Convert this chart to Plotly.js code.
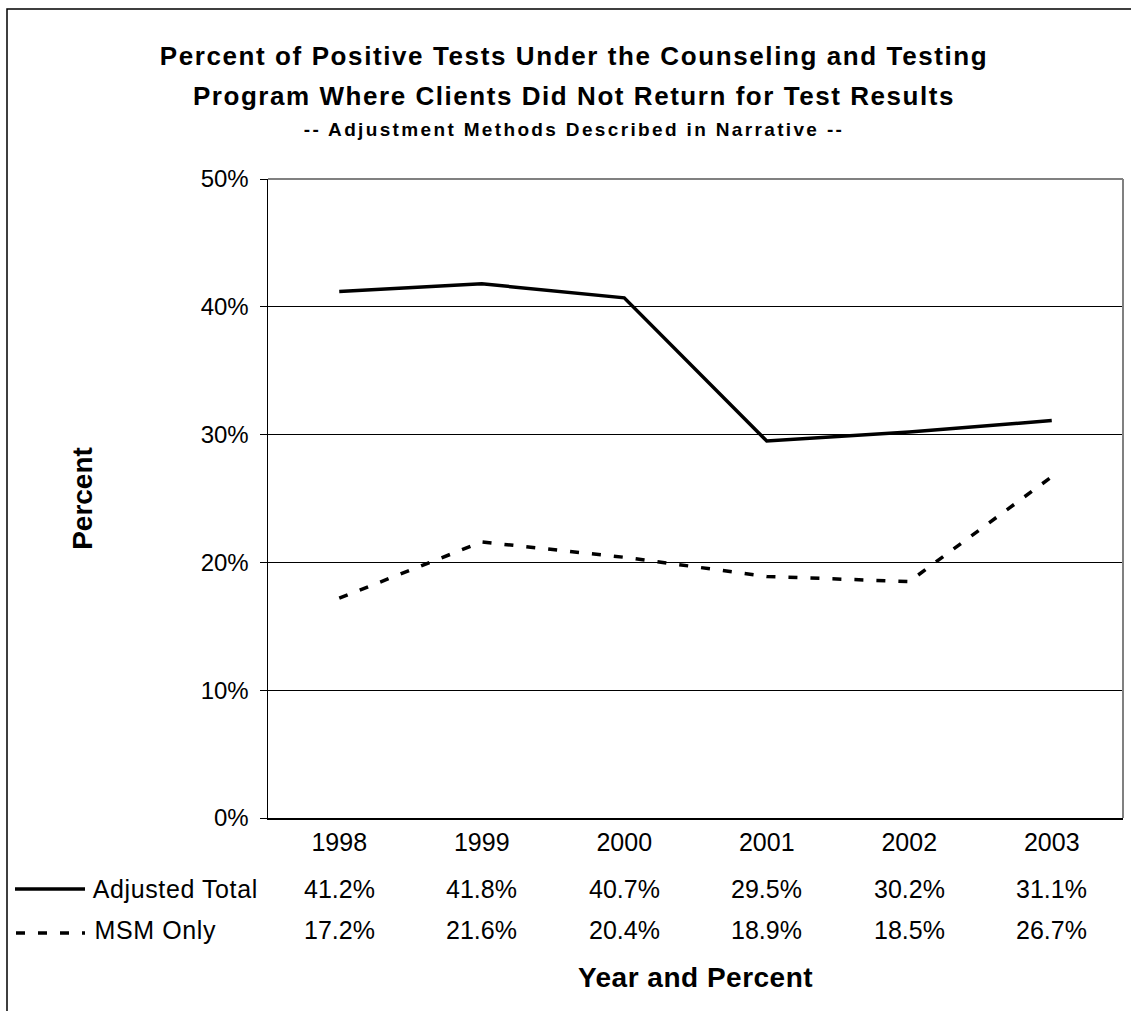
<!DOCTYPE html>
<html><head><meta charset="utf-8">
<script src="https://cdn.plot.ly/plotly-3.0.1.min.js"></script>
<style>
html,body{margin:0;padding:0;background:#fff;}
#chart{width:1131px;height:1011px;}
.gtitle{letter-spacing:1.6px;}
.annotation[data-index="0"] text{letter-spacing:1.55px;}
.annotation[data-index="1"] text{letter-spacing:2.35px;}
.annotation[data-index="2"] text, .annotation[data-index="9"] text{letter-spacing:0.6px;}
.g-xtitle text{letter-spacing:0.5px;}
</style></head><body><div id="chart"></div>
<script>
// ---- data ----
const years = ['1998', '1999', '2000', '2001', '2002', '2003'];
const adjustedTotal = [41.2, 41.8, 40.7, 29.5, 30.2, 31.1];
const msmOnly = [17.2, 21.6, 20.4, 18.9, 18.5, 26.7];
const seriesNames = ['Adjusted Total', 'MSM Only'];
const yTickVals = [0, 10, 20, 30, 40, 50];
const yTickText = ['0%', '10%', '20%', '30%', '40%', '50%'];
const titleLine1 = 'Percent of Positive Tests Under the Counseling and Testing';
const titleLine2 = 'Program Where Clients Did Not Return for Test Results';
const subtitle = '-- Adjustment Methods Described in Narrative --';

const FONT = 'Liberation Sans, Arial, Helvetica, sans-serif';
const dashStyle = '9px,13px';

const traces = [
  {x: years, y: adjustedTotal, name: seriesNames[0], type: 'scatter', mode: 'lines',
   line: {color: '#000', width: 3.5}, showlegend: false, hoverinfo: 'x+y'},
  {x: years, y: msmOnly, name: seriesNames[1], type: 'scatter', mode: 'lines',
   line: {color: '#000', width: 3.5, dash: dashStyle}, showlegend: false, hoverinfo: 'x+y'}
];

// layout helpers (pixel -> paper conversions for the data table rows)
const W = 1131, H = 1011;
const M = {l: 268, r: 8, t: 179, b: 193};
const plotW = W - M.l - M.r, plotH = H - M.t - M.b;
const px2x = p => (p - M.l) / plotW;
const py2y = p => (H - M.b - p) / plotH;

const rowY = [py2y(889), py2y(930)];
const rowSeries = [adjustedTotal, msmOnly];

const annotations = [
  {text: '<b>' + titleLine2 + '</b>', xref: 'paper', yref: 'paper', x: px2x(574), y: py2y(96),
   xanchor: 'center', yanchor: 'middle', showarrow: false, font: {size: 26, family: FONT, color: '#000'}},
  {text: '<b>' + subtitle + '</b>', xref: 'paper', yref: 'paper', x: px2x(574), y: py2y(129),
   xanchor: 'center', yanchor: 'middle', showarrow: false, font: {size: 19, family: FONT, color: '#000'}}
];
seriesNames.forEach((nm, r) => {
  annotations.push({text: nm, xref: 'paper', yref: 'paper', x: px2x(95), y: rowY[r],
    xanchor: 'left', yanchor: 'middle', showarrow: false, font: {size: 25, family: FONT, color: '#000'}});
  rowSeries[r].forEach((v, i) => {
    // category axis: position by category index
    annotations.push({text: v.toFixed(1) + '%', xref: 'x', yref: 'paper', x: i, y: rowY[r],
      xanchor: 'center', yanchor: 'middle', showarrow: false, font: {size: 25, family: FONT, color: '#000'}});
  });
});

const shapes = [
  // plot frame (top & right, grey)
  {type: 'line', xref: 'paper', yref: 'paper', x0: 0, x1: 1, y0: 1, y1: 1, layer: 'above',
   line: {color: '#808080', width: 2}},
  {type: 'line', xref: 'paper', yref: 'paper', x0: 1, x1: 1, y0: 0, y1: 1, layer: 'above',
   line: {color: '#808080', width: 2}},
  // outer chart border
  {type: 'rect', xref: 'paper', yref: 'paper', x0: px2x(7), x1: px2x(1140), y0: py2y(1020), y1: py2y(9),
   layer: 'above', line: {color: '#000', width: 1.5}, fillcolor: 'rgba(0,0,0,0)'},
  // legend keys of the data table
  {type: 'line', xref: 'paper', yref: 'paper', x0: px2x(15), x1: px2x(85), y0: py2y(889), y1: py2y(889),
   line: {color: '#000', width: 3.5}},
  {type: 'line', xref: 'paper', yref: 'paper', x0: px2x(16), x1: px2x(85), y0: py2y(933), y1: py2y(933),
   line: {color: '#000', width: 3.5, dash: dashStyle}}
];

const layout = {
  width: W, height: H,
  margin: {l: M.l, r: M.r, t: M.t, b: M.b, pad: 0},
  paper_bgcolor: '#fff', plot_bgcolor: '#fff',
  font: {family: FONT, color: '#000', size: 24},
  title: {text: titleLine1, font: {size: 26, weight: 700, family: FONT, color: '#000'},
          xref: 'container', yref: 'container', x: 574 / W, y: 1 - 56 / H,
          xanchor: 'center', yanchor: 'middle'},
  xaxis: {type: 'category', range: [-0.5, 5.5], showline: true, linecolor: '#000', linewidth: 1.5,
          ticks: '', showgrid: false, zeroline: false, tickfont: {size: 25, family: FONT, color: '#000'},
          ticklabelstandoff: 1, fixedrange: true,
          title: {text: 'Year and Percent', font: {size: 28, weight: 700, family: FONT, color: '#000'}, standoff: 113}},
  yaxis: {range: [0, 50], tickvals: yTickVals, ticktext: yTickText, showgrid: true, gridcolor: '#000', gridwidth: 1,
          showline: true, linecolor: '#000', linewidth: 1.5, ticks: 'outside', ticklen: 7, tickcolor: '#000',
          tickwidth: 1, zeroline: false, tickfont: {size: 24, family: FONT, color: '#000'},
          ticklabelstandoff: 6, fixedrange: true,
          title: {text: 'Percent', font: {size: 28, weight: 700, family: FONT, color: '#000'}, standoff: 100}},
  annotations: annotations,
  shapes: shapes
};

Plotly.newPlot('chart', traces, layout, {displayModeBar: false, staticPlot: true});
</script></body></html>
